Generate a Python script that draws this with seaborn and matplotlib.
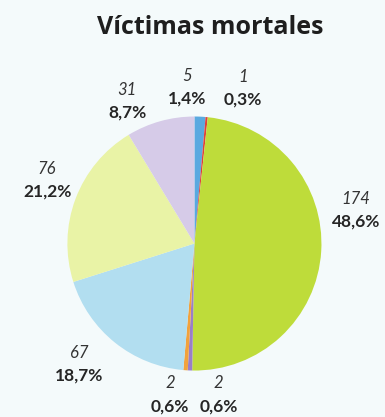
import matplotlib
matplotlib.use("Agg")
import matplotlib.pyplot as plt
import seaborn as sns

sns.set_theme(style="white")
plt.rcParams["font.family"] = ["Lato", "DejaVu Sans"]

# Fatal victims by category (clockwise from 12 o'clock)
counts = [5, 1, 174, 2, 2, 67, 76, 31]
percents = ["1,4%", "0,3%", "48,6%", "0,6%", "0,6%", "18,7%", "21,2%", "8,7%"]
colors = ["#5aa9e0", "#e0403a", "#bedc3a", "#9a7fc8", "#f2a23c",
          "#b2def0", "#e9f3a6", "#d6cbe8"]

# Label anchor points (data units, pie radius = 1)
label_pos = [(-0.06, 1.23), (0.38, 1.22), (1.27, 0.26), (0.19, -1.19),
             (-0.19, -1.19), (-0.91, -0.95), (-1.16, 0.50), (-0.53, 1.12)]

bg = "#f4fafb"
fig = plt.figure(figsize=(3.85, 4.17), dpi=100, facecolor=bg)
ax = fig.add_axes([0.505 - 0.33, 0.416 - 0.3046, 0.66, 0.6092])
ax.set_facecolor(bg)

ax.pie(counts, colors=colors, startangle=90, counterclock=False,
       radius=1.0, wedgeprops=dict(linewidth=0))
ax.set_xlim(-1, 1)
ax.set_ylim(-1, 1)
ax.set_aspect("equal")
ax.axis("off")

for n, p, (x, y) in zip(counts, percents, label_pos):
    ax.text(x, y + 0.09, str(n), ha="center", va="center",
            fontsize=12, style="italic", color="#333333", clip_on=False)
    ax.text(x, y - 0.09, p, ha="center", va="center",
            fontsize=12.5, fontweight="bold", color="#262626", clip_on=False)

fig.text(0.545, 0.918, "Víctimas mortales", ha="center", va="baseline",
         fontsize=18, fontweight="bold", color="#1e1e1e",
         family=["Open Sans", "DejaVu Sans"])

fig.savefig("out.png", dpi=100, facecolor=bg)
